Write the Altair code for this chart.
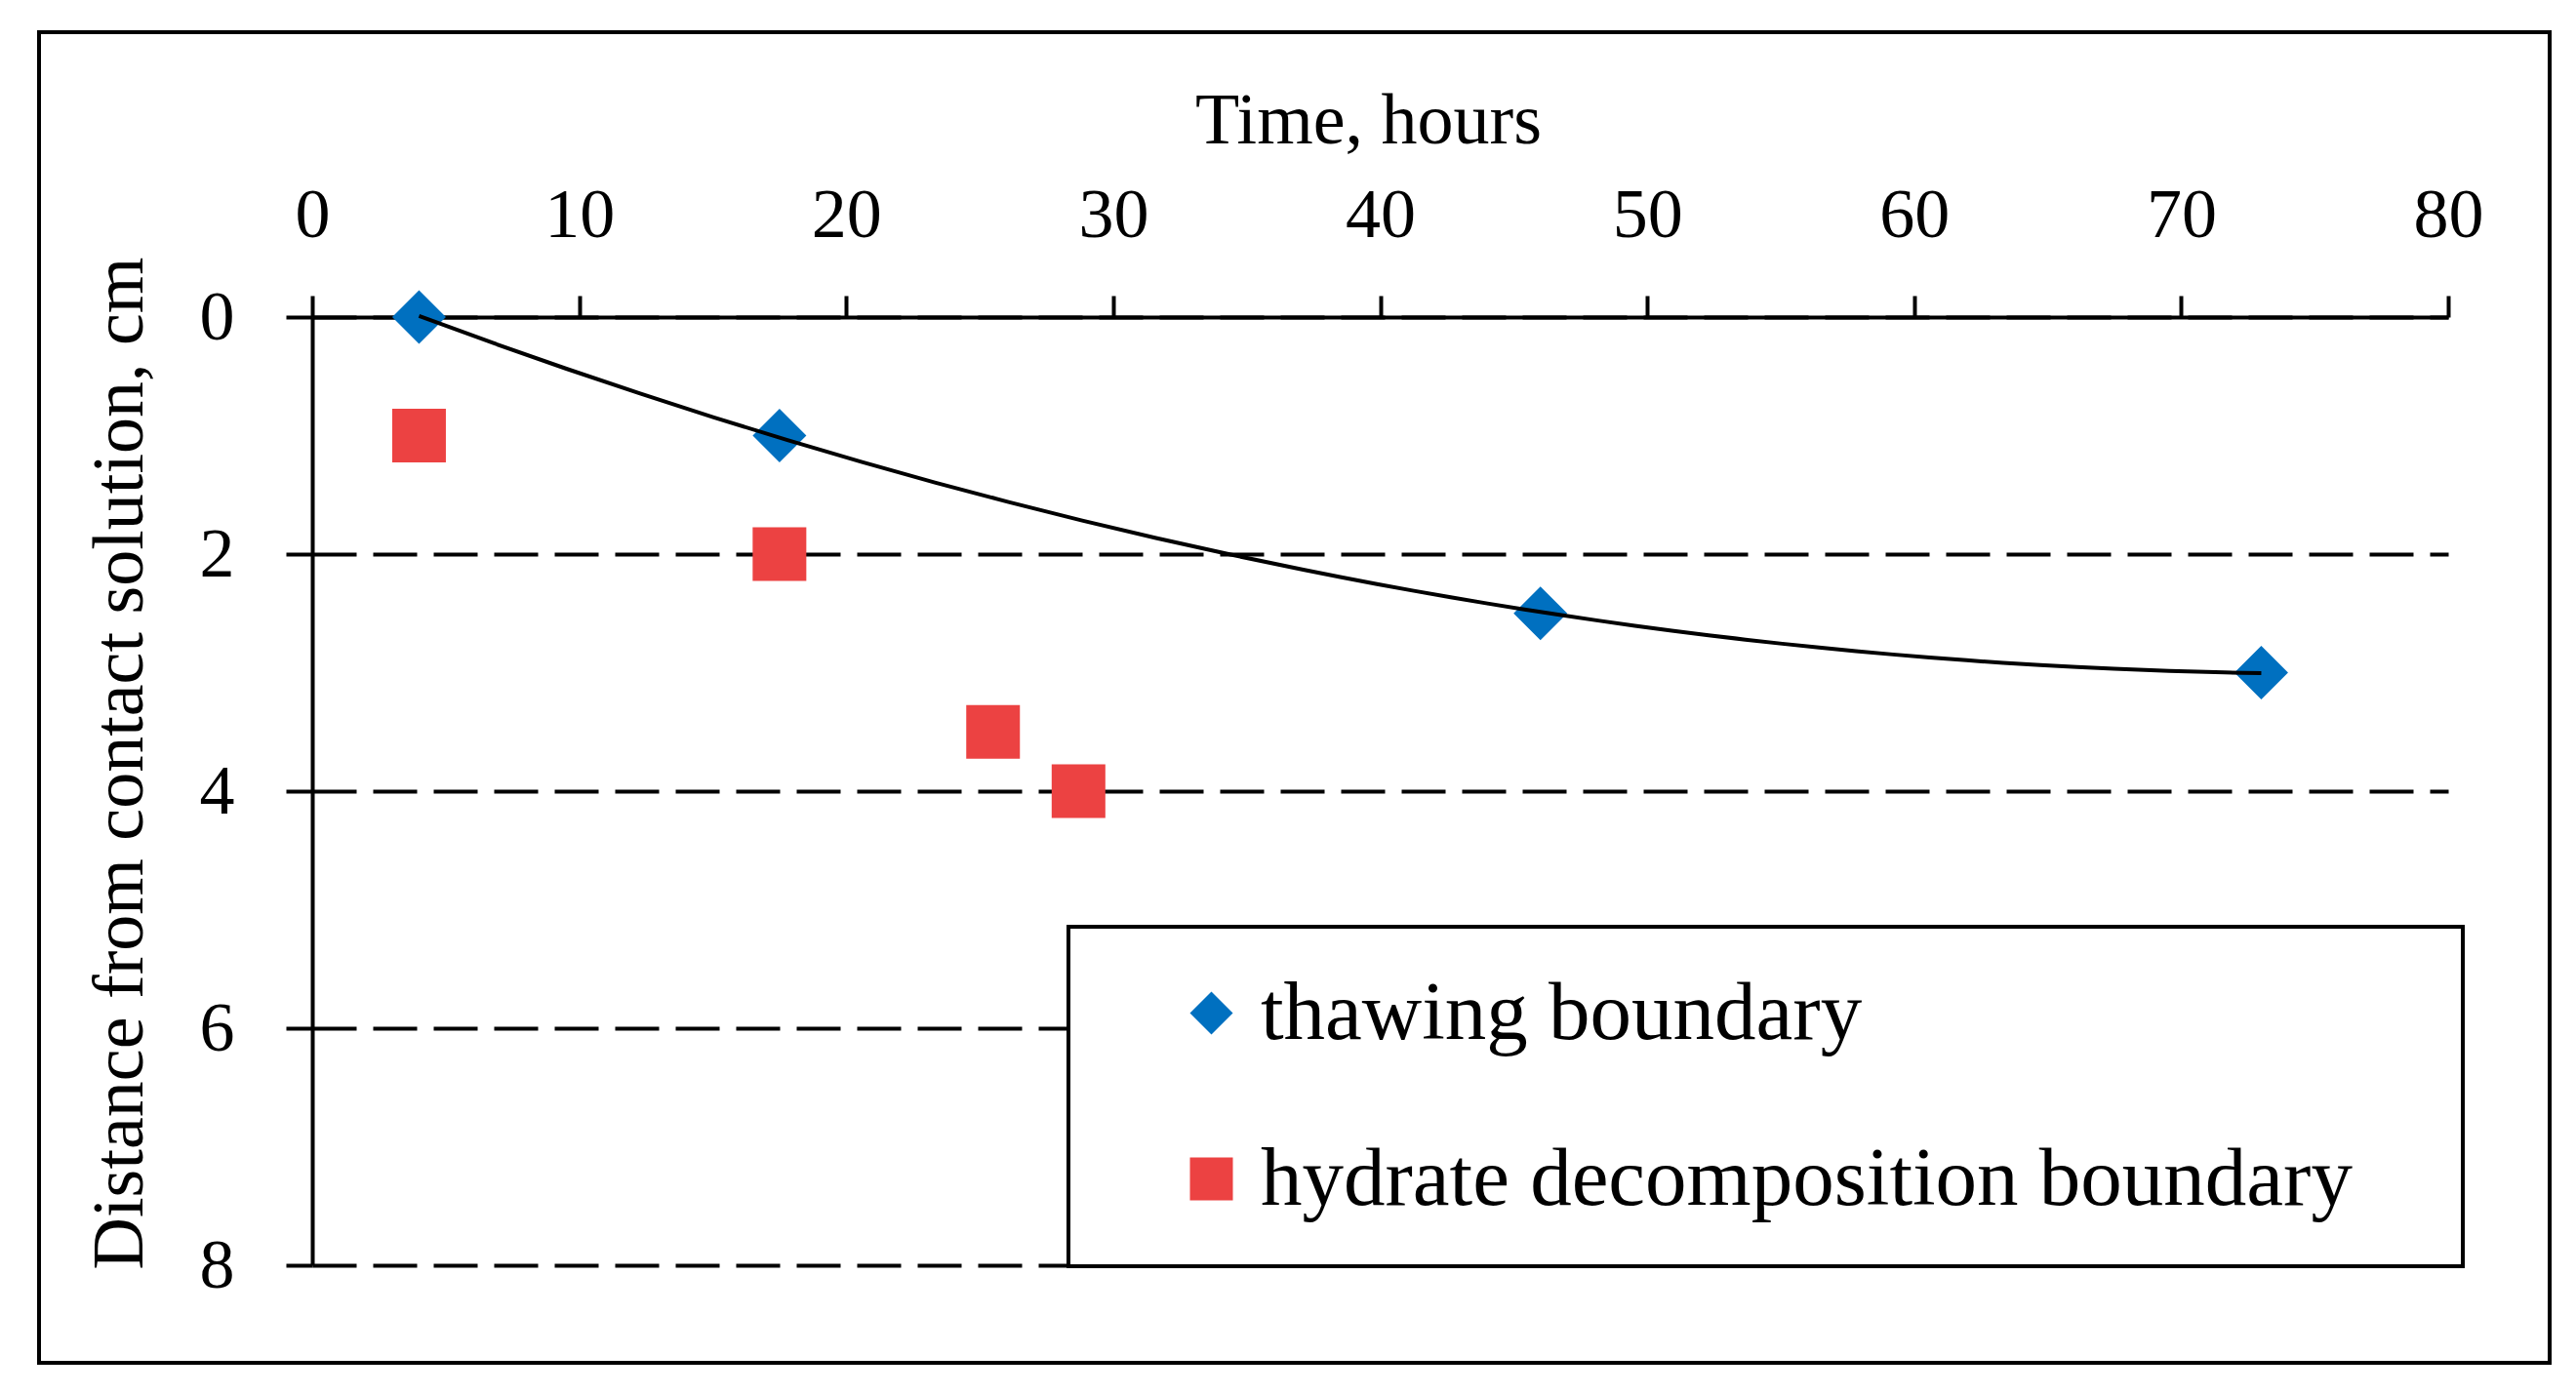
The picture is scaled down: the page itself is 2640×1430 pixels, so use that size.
import altair as alt
import pandas as pd

# ---- data ----
thaw_time = [4, 17.5, 46, 73]
thaw_dist = [0, 1, 2.5, 3]
hyd_time = [4, 17.5, 25.5, 28.7]
hyd_dist = [1, 2, 3.5, 4]
series_names = ["thawing boundary", "hydrate decomposition boundary"]
x_ticks = [0, 10, 20, 30, 40, 50, 60, 70, 80]
y_ticks = [0, 2, 4, 6, 8]

FONT = "Liberation Serif"
BLUE = "#0070C0"
RED = "#EC4242"

df = pd.DataFrame({
    "time": thaw_time + hyd_time,
    "dist": thaw_dist + hyd_dist,
    "series": [series_names[0]] * len(thaw_time) + [series_names[1]] * len(hyd_time),
})
df_thaw = pd.DataFrame({"time": thaw_time, "dist": thaw_dist})

W, H = 2189, 972

xscale = alt.Scale(domain=[0, 80], nice=False, zero=False)
yscale = alt.Scale(domain=[0, 8], nice=False, reverse=True)

legend = alt.Legend(
    title="MM",
    titleOrient="right",
    titleColor="white",
    titleFontSize=34,
    titlePadding=10,
    orient="none",
    legendX=775,
    legendY=625,
    padding=46,
    symbolOffset=58,
    labelOffset=8,
    rowPadding=84,
    symbolSize=1936,
    labelFontSize=85,
    labelFont=FONT,
    labelColor="black",
    labelLimit=2000,
    strokeColor="black",
    fillColor="white",
)

x_axis = alt.Axis(
    orient="top", values=x_ticks, format="d", grid=False, title="Time, hours",
    titleFont=FONT, titleFontSize=74, titleFontWeight="normal", titleColor="black",
    titleBaseline="alphabetic", titleAlign="center", titleX=1082, titleY=-179, titleAngle=0,
    labelFont=FONT, labelFontSize=72, labelColor="black", labelBaseline="alphabetic",
    labelPadding=61, tickSize=22, tickWidth=4, tickColor="black",
    domainColor="black", domainWidth=4, labelFlush=False, labelOverlap=False,
)
y_axis = alt.Axis(
    orient="left", values=y_ticks, format="d", grid=True, gridDash=[45, 17], gridWidth=4,
    gridColor="black", gridOpacity=1,
    title="Distance from contact solution, cm",
    titleFont=FONT, titleFontSize=74, titleFontWeight="normal", titleColor="black",
    titleAngle=270, titleBaseline="alphabetic", titleAlign="center", titleX=-175, titleY=457,
    labelFont=FONT, labelFontSize=72, labelColor="black", labelPadding=53,
    tickSize=27, tickWidth=4, tickColor="black",
    domainColor="black", domainWidth=4, labelFlush=False, labelOverlap=False,
)

points = alt.Chart(df).mark_point(filled=True, opacity=1, size=3025, strokeWidth=0).encode(
    x=alt.X("time:Q", scale=xscale, axis=x_axis),
    y=alt.Y("dist:Q", scale=yscale, axis=y_axis),
    color=alt.Color("series:N", scale=alt.Scale(domain=series_names, range=[BLUE, RED]), legend=legend),
    shape=alt.Shape("series:N", scale=alt.Scale(domain=series_names, range=["diamond", "square"]), legend=legend),
)

trend = alt.Chart(df_thaw).transform_regression(
    "time", "dist", method="poly", order=2
).mark_line(color="black", strokeWidth=4).encode(
    x=alt.X("time:Q", scale=xscale),
    y=alt.Y("dist:Q", scale=yscale),
)

frame = alt.Chart(pd.DataFrame({"k": [0]})).mark_rect(
    filled=False, stroke="black", strokeWidth=4
).encode(
    x=alt.value(-280), x2=alt.value(2293), y=alt.value(-292), y2=alt.value(1072)
)

chart = alt.layer(frame, points, trend).properties(
    width=W, height=H,
    autosize=alt.AutoSizeParams(type="none"),
    padding={"left": 312, "top": 317, "right": 120, "bottom": 120},
    background="white",
).configure_view(stroke=None).configure_legend(strokeWidth=4)

chart.save("out.html", embed_options={"renderer": "svg", "actions": False})
